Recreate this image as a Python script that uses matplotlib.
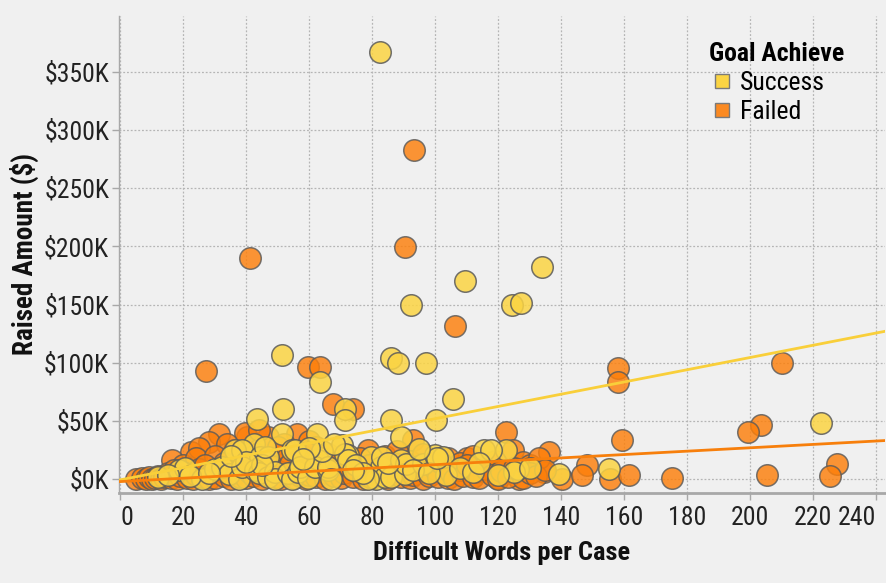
import matplotlib
matplotlib.use("Agg")
import matplotlib.pyplot as plt
from matplotlib.lines import Line2D
from matplotlib.ticker import FuncFormatter
import numpy as np
from matplotlib import font_manager

names = {f.name for f in font_manager.fontManager.ttflist}
FONT = 'DejaVu Sans'
for cand in ['Roboto Condensed', 'Liberation Sans Narrow', 'Arial Narrow', 'IBM Plex Sans Condensed',
             'Open Sans Condensed']:
    if cand in names:
        FONT = cand
        break
plt.rcParams['font.family'] = [FONT, 'DejaVu Sans']

# ---------------- data ----------------
failed_x = [41.2, 90.3, 93.2, 106.4, 27.2, 59.7, 63.4, 67.4, 74.0, 158.0, 158.0, 210.3, 203.5, 199.5,
            159.4, 175.2, 205.3, 227.6, 225.5, 122.5, 124.6, 127.8, 136.2, 134.5, 140.4, 148.3, 146.7,
            155.7, 161.5, 117.7, 119.8, 126.6, 93.0, 110.0,
            31.2, 40.2, 28.0, 22.3, 16.5, 47.0, 56.0, 39.7, 36.0, 78.7, 52.0, 44.0, 60.0, 34.0, 25.0,
            20, 24, 30, 33, 43, 50, 53, 58, 62, 66, 70, 76, 80, 84, 88, 92, 96, 100, 104, 108, 112,
            115, 119, 122, 130, 133,
            5, 7, 8, 9, 10, 11, 12, 13, 14, 15, 16, 17, 18, 19, 20, 21, 23, 24, 25, 26, 27, 28, 29,
            30, 32, 33, 34, 35, 37, 38, 39, 40, 41, 42, 44, 45, 46, 48, 49, 50, 51, 53, 54, 55, 57,
            58, 59, 60, 61, 62, 64, 65, 66, 68, 69, 70, 71, 73, 74, 75, 77, 78, 79, 80, 81, 83, 84,
            85, 87, 88, 89, 91, 92, 93, 95, 96, 97, 98, 100, 101, 102, 104, 105, 106, 108, 109, 110,
            112, 113, 114, 116, 118, 120, 121, 123, 125, 128, 130, 132, 135]
failed_y = [189.6, 199.0, 282.6, 132.0, 92.8, 96.0, 96.5, 65.0, 60.7, 95.5, 83.5, 100.0, 47.0, 40.6,
            33.5, 1.0, 4.0, 13.0, 3.0, 40.6, 25.0, 15.0, 23.5, 6.0, 0.5, 12.0, 3.4,
            0.6, 3.4, 5.0, 1.0, 0.5, 33.5, 18.0,
            39.0, 36.0, 32.0, 23.5, 16.3, 36.0, 39.0, 39.5, 25.0, 25.0, 30.0, 42.0, 33.0, 30.0, 27.0,
            12, 18, 20, 14, 22, 28, 18, 20, 28, 22, 14, 18, 12, 20, 24, 16, 22, 12, 18, 14, 20,
            10, 16, 8, 12, 18,
            0.5, 1, 0, 2, 0.5, 1, 3, 0, 2, 5, 1, 8, 0.5, 3, 6, 1, 0, 4, 9, 2, 12, 0.5, 5,
            1, 7, 3, 10, 0, 5, 2, 14, 1, 6, 3, 9, 0.5, 4, 11, 2, 7, 0, 5, 13, 1, 3,
            8, 0.5, 4, 12, 2, 6, 0, 9, 3, 15, 1, 5, 10, 2, 7, 0.5, 4, 12, 1, 6, 3, 9,
            0, 5, 13, 2, 7, 1, 4, 11, 0.5, 6, 3, 9, 2, 14, 1, 5, 0, 8, 3, 12,
            2, 6, 1, 9, 4, 0.5, 7, 2, 10, 1, 5, 3, 8]

success_x = [82.4, 134.0, 109.5, 92.2, 124.4, 127.2, 51.3, 63.4, 86.0, 88.2, 97.2, 105.6, 71.3, 51.8,
             222.7, 43.4, 71.3, 86.0, 100.3, 89.2, 115.6, 122.5, 117.7, 126.2, 125.0, 139.4, 155.2,
             51.3, 62.3, 42.3, 36.5, 70.3, 54.4, 38.6, 72.4, 44.3, 47.0, 63.3, 62.8, 55.4,
             18.6, 20.6, 26.0, 30.2, 32.3, 34.4, 37.6, 38.6, 42.8, 43.9, 47.0, 49.0, 49.0, 53.4,
             54.4, 56.5, 57.0, 59.7, 61.8, 66.0, 66.0, 67.0, 71.3, 72.4, 79.7, 81.3, 82.9, 83.0,
             84.0, 86.0, 89.2, 90.3, 90.8, 96.0, 99.8, 102.4, 103.5, 78.7, 64.0, 68.0, 60.0, 45.0,
             40.0, 35.0, 75.0, 77.0, 85.0, 93.0, 98.0, 108.0, 112.0, 114.0, 120.0, 130.0, 12.0,
             15.0, 22.0, 28.0, 100.7, 58.0, 46.0, 74.0, 95.0]
success_y = [367.0, 182.0, 170.0, 150.0, 150.0, 151.0, 106.5, 83.6, 103.7, 99.4, 99.4, 68.7, 60.7, 60.7,
             48.7, 52.0, 50.7, 50.7, 50.7, 36.0, 25.0, 25.0, 25.0, 9.0, 6.0, 4.8, 9.0,
             39.0, 39.0, 30.6, 25.0, 29.0, 25.0, 25.0, 20.6, 19.0, 19.0, 18.0, 16.3, 25.0,
             7.7, 9.5, 0.0, 9.2, 10.6, 4.9, 0.6, 10.6, 7.7, 5.0, 2.0, 6.0, 0.0, 5.0,
             0.0, 6.3, 10.6, 1.0, 10.6, 7.7, 10.6, 0.6, 22.0, 16.3, 19.0, 0.6, 10.6, 19.0,
             2.0, 2.0, 16.3, 4.9, 13.5, 13.5, 20.6, 19.0, 3.4, 0.5, 24.0, 30.0, 27.0, 12.0,
             15.0, 20.0, 12.0, 5.0, 14.0, 8.0, 5.0, 10.0, 6.0, 14.0, 4.0, 10.0, 2.0,
             4.0, 3.0, 5.0, 18.0, 17.0, 28.0, 8.0, 26.0]

# trend lines (intercept $K, slope $K per word)
success_trend = [-0.5, 0.525]
failed_trend = [-2.0, 0.145]

x_ticks = [0, 20, 40, 60, 80, 100, 120, 140, 160, 180, 200, 220, 240]
y_ticks = [0, 50, 100, 150, 200, 250, 300, 350]

# ---------------- plot ----------------
BG = '#f0f0f0'
YEL = '#fbd443'
ORA = '#fd7f0a'
fig = plt.figure(figsize=(8.87, 5.83), dpi=100, facecolor=BG)
ax = fig.add_axes([0.134, 0.154, 0.864, 0.819])
ax.set_facecolor(BG)

ax.scatter(failed_x, np.array(failed_y) * 1000, s=240, c=ORA, alpha=0.82,
           edgecolors='#5a5a5a', linewidths=1.1, zorder=3)
ax.scatter(success_x, np.array(success_y) * 1000, s=240, c=YEL, alpha=0.85,
           edgecolors='#5a5a5a', linewidths=1.1, zorder=3)

xl = np.array([0, 243])
ax.plot(xl, (success_trend[0] + success_trend[1] * xl) * 1000, color='#f9cf3a', lw=2.0, zorder=4)
ax.plot(xl, (failed_trend[0] + failed_trend[1] * xl) * 1000, color='#f77f0c', lw=2.0, zorder=4)

ax.set_xlim(-0.5, 243)
ax.set_ylim(-12000, 398000)
ax.set_xticks(x_ticks)
ax.set_yticks([v * 1000 for v in y_ticks])
ax.yaxis.set_major_formatter(FuncFormatter(lambda v, p: f"${v/1000:.0f}K"))

ax.grid(True, color='#b5b5b5', linestyle=(0, (1.5, 1.5)), linewidth=0.9, zorder=0)
ax.set_axisbelow(True)
for s in ['top', 'right']:
    ax.spines[s].set_visible(False)
ax.spines['left'].set_color('#a8a8a8')
ax.spines['left'].set_linewidth(1.0)
ax.spines['bottom'].set_color('#a8a8a8')
ax.spines['bottom'].set_linewidth(2.0)
ax.tick_params(axis='both', colors='#a8a8a8', length=5, width=1, labelsize=18.5,
               labelcolor='#222222')
ax.tick_params(axis='x', pad=4)
ax.tick_params(axis='y', pad=2)
labels = ax.get_xticklabels()
labels[0].set_horizontalalignment('left')
labels[-1].set_horizontalalignment('right')

ax.set_xlabel('Difficult Words per Case', fontsize=19, fontweight='bold', color='#111111')
ax.set_ylabel('Raised Amount ($)', fontsize=19.5, fontweight='bold', color='#111111')
ax.xaxis.set_label_coords(0.5, -0.101)
ax.yaxis.set_label_coords(-0.104, 0.5)

handles = [Line2D([], [], marker='s', linestyle='none', markersize=10, markerfacecolor=YEL,
                  markeredgecolor='#7a7a7a', label='Success'),
           Line2D([], [], marker='s', linestyle='none', markersize=10, markerfacecolor='#fb8a22',
                  markeredgecolor='#7a7a7a', label='Failed')]
leg = fig.legend(handles=handles, title='Goal Achieve', loc='upper left',
                 bbox_to_anchor=(0.785, 0.95), frameon=False, fontsize=18.5,
                 title_fontproperties={'weight': 'bold', 'size': 18.5, 'family': [FONT, 'DejaVu Sans']},
                 handletextpad=0.2, labelspacing=0.2, borderpad=0, handlelength=1.0)
leg._legend_box.align = 'left'

fig.savefig('out.png', dpi=100, facecolor=BG)
